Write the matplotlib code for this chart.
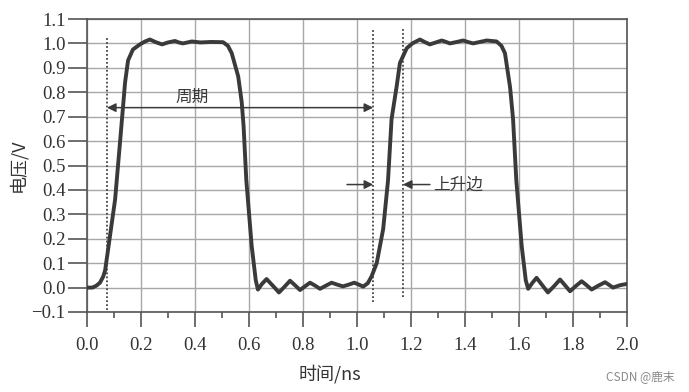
import matplotlib
matplotlib.use("Agg")
import matplotlib.pyplot as plt
from matplotlib.ticker import MultipleLocator

plt.rcParams["font.family"] = ["Noto Sans CJK SC", "DejaVu Sans"]

# waveform (time in ns, voltage in V)
t = [0.0, 0.02, 0.035, 0.048, 0.06, 0.067, 0.078, 0.09, 0.104, 0.125, 0.141,
     0.152, 0.17, 0.196, 0.215, 0.233, 0.255, 0.278, 0.3, 0.326, 0.34, 0.355,
     0.372, 0.388, 0.42, 0.46, 0.504, 0.522, 0.536, 0.56, 0.573, 0.58, 0.59,
     0.61, 0.625, 0.633, 0.648, 0.665, 0.688, 0.711, 0.732, 0.752, 0.77,
     0.789, 0.807, 0.826, 0.845, 0.863, 0.885, 0.906, 0.927, 0.948, 0.969,
     0.99, 1.007, 1.023, 1.04, 1.054, 1.073, 1.097, 1.115, 1.128, 1.147,
     1.159, 1.184, 1.205, 1.233, 1.252, 1.27, 1.292, 1.314, 1.33, 1.344,
     1.37, 1.393, 1.41, 1.43, 1.455, 1.48, 1.517, 1.535, 1.548, 1.567,
     1.578, 1.59, 1.61, 1.625, 1.634, 1.65, 1.665, 1.686, 1.707, 1.73,
     1.752, 1.77, 1.789, 1.81, 1.832, 1.85, 1.869, 1.894, 1.919, 1.935,
     1.948, 1.975, 2.0]
v = [0.0, 0.0, 0.008, 0.02, 0.045, 0.07, 0.155, 0.25, 0.36, 0.63, 0.84,
     0.93, 0.975, 0.996, 1.008, 1.016, 1.005, 0.996, 1.004, 1.01, 1.004, 1.0,
     1.004, 1.008, 1.004, 1.006, 1.005, 0.99, 0.96, 0.865, 0.76, 0.66, 0.44,
     0.17, 0.03, -0.008, 0.015, 0.035, 0.008, -0.02, 0.004, 0.028, 0.01,
     -0.01, 0.005, 0.02, 0.008, -0.005, 0.008, 0.02, 0.012, 0.005, 0.012,
     0.02, 0.012, 0.004, 0.018, 0.046, 0.1, 0.24, 0.44, 0.69, 0.825,
     0.92, 0.98, 1.0, 1.016, 1.005, 0.996, 1.004, 1.012, 1.006, 1.0,
     1.006, 1.012, 1.006, 1.0, 1.006, 1.012, 1.008, 0.99, 0.96, 0.82,
     0.69, 0.44, 0.17, 0.03, -0.005, 0.02, 0.04, 0.01, -0.02, 0.006,
     0.033, 0.01, -0.015, 0.006, 0.026, 0.01, -0.008, 0.008, 0.022, 0.01,
     0.0, 0.01, 0.015]

# dotted marker lines: x, y bottom, y top
marker_x = [0.074, 1.06, 1.17]
marker_ybot = [-0.09, -0.06, -0.04]
marker_ytop = [1.03, 1.057, 1.06]

xticks = [0.0, 0.2, 0.4, 0.6, 0.8, 1.0, 1.2, 1.4, 1.6, 1.8, 2.0]
xtick_labels = ["0.0", "0.2", "0.4", "0.6", "0.8", "1.0", "1.2", "1.4", "1.6", "1.8", "2.0"]
yticks = [-0.1, 0.0, 0.1, 0.2, 0.3, 0.4, 0.5, 0.6, 0.7, 0.8, 0.9, 1.0, 1.1]
ytick_labels = ["\u22120.1", "0.0", "0.1", "0.2", "0.3", "0.4", "0.5", "0.6",
                "0.7", "0.8", "0.9", "1.0", "1.1"]

ink = "#3a3a3a"

fig = plt.figure(figsize=(6.89, 3.92), dpi=100)
ax = fig.add_axes([87 / 689, 80 / 392, 540 / 689, 293 / 392])

ax.plot(t, v, color=ink, lw=2.8, solid_joinstyle="round", solid_capstyle="round", zorder=4)

for x, y0, y1 in zip(marker_x, marker_ybot, marker_ytop):
    ax.plot([x, x], [y0, y1], color="#444444", lw=1.3, ls=(0, (1, 1.2)), zorder=3)

# period arrow
arr = dict(arrowstyle="-|>", color=ink, lw=1.1, mutation_scale=13, shrinkA=0, shrinkB=0)
ax.annotate("", xy=(0.074, 0.737), xytext=(0.57, 0.737), arrowprops=arr, zorder=5)
ax.annotate("", xy=(1.06, 0.737), xytext=(0.57, 0.737), arrowprops=arr, zorder=5)
ax.text(0.39, 0.745, "周期", fontsize=12, color=ink, ha="center", va="bottom", zorder=5)

# rise edge arrows
ax.annotate("", xy=(1.06, 0.422), xytext=(0.963, 0.422), arrowprops=arr, zorder=5)
ax.annotate("", xy=(1.17, 0.422), xytext=(1.27, 0.422), arrowprops=arr, zorder=5)
ax.text(1.283, 0.418, "上升边", fontsize=12, color=ink, ha="left", va="center", zorder=5)

ax.set_xlim(0, 2.0)
ax.set_ylim(-0.1, 1.1)
ax.set_xticks(xticks)
ax.set_xticklabels(xtick_labels, family="Liberation Serif", fontsize=13.5, color="#333333")
ax.xaxis.set_minor_locator(MultipleLocator(0.1))
ax.set_yticks(yticks)
ax.set_yticklabels(ytick_labels, family="Liberation Serif", fontsize=13.5, color="#333333")

ax.tick_params(axis="x", which="major", direction="out", length=11, width=1.2, color="#555555", pad=7)
ax.tick_params(axis="x", which="minor", direction="out", length=4.5, width=1.2, color="#555555")
ax.tick_params(axis="y", which="major", direction="out", length=13.5, width=1.2, color="#555555", pad=2)

ax.grid(True, which="major", color="#a8a8a8", lw=1.0)
for s in ax.spines.values():
    s.set_color("#555555")
    s.set_linewidth(1.2)

ax.set_xlabel("时间/ns", fontsize=13, color="#333333")
ax.xaxis.set_label_coords(0.45, -0.18)
ax.set_ylabel("电压/V", fontsize=13, color="#333333")
ax.yaxis.set_label_coords(-0.11, 0.5)

fig.text(606 / 689, 1 - 377 / 392, "CSDN @鹿末", fontsize=8.5, color="#8a8a8a", va="center")

fig.savefig("out.png", dpi=100, facecolor="white")
